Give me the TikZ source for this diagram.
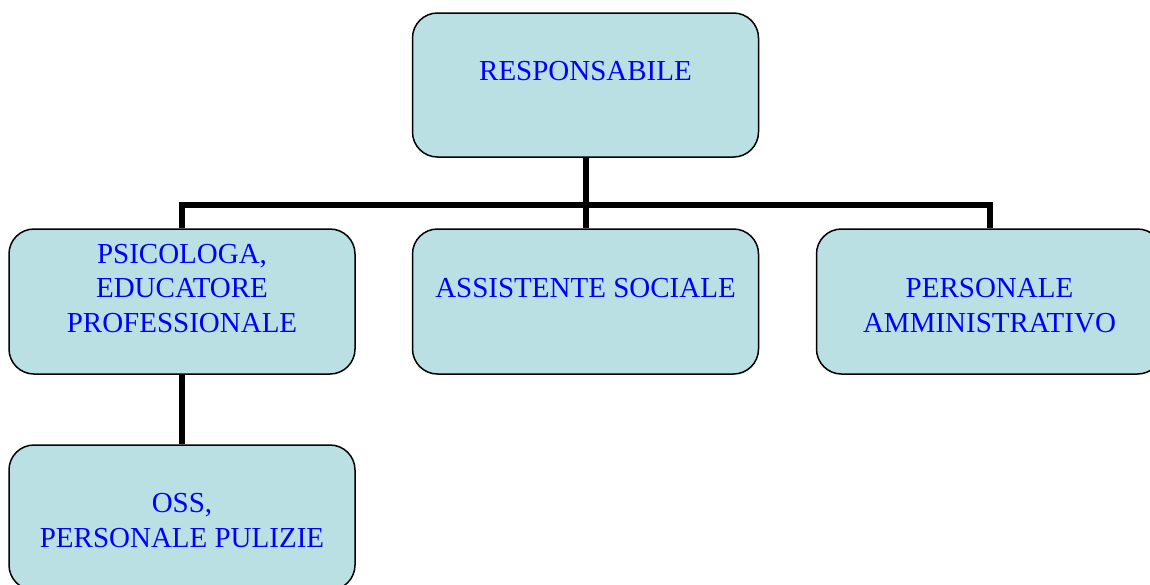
\documentclass[tikz,border=0pt]{standalone}
\usepackage{fontspec}
\setmainfont{Liberation Serif}
\usetikzlibrary{backgrounds}
\definecolor{boxfill}{RGB}{186,224,227}
\definecolor{txtblue}{RGB}{0,0,255}
\begin{document}
\begin{tikzpicture}[x=1pt,y=-1pt,
  orgbox/.style={draw=black, line width=1.5pt, fill=boxfill, rectangle,
    rounded corners=25pt, minimum width=346pt, minimum height=145pt, inner sep=0pt},
  lbl/.style={text=txtblue, align=center, inner sep=0pt,
    font=\fontsize{29}{34.5}\selectfont},
  conn/.style={line width=6pt, draw=black, line join=miter}]
\useasboundingbox (0,0) rectangle (1150,584);
\clip (0,0) rectangle (1150,584);
\coordinate (bus) at (0,205);
% boxes
\node[orgbox, minimum height=144pt] (r) at (585.5,85) {};
\node[orgbox] (p) at (182,301.5) {};
\node[orgbox] (a) at (585.5,301.5) {};
\node[orgbox] (m) at (989.5,301.5) {};
\node[orgbox] (o) at (182,517.5) {};
% connectors behind the boxes
\begin{scope}[on background layer]
\draw[conn] (r.south) -- (a.north);
\draw[conn] (p.north) |- (a.north |- bus) -| (m.north);
\draw[conn] (p.south) -- (o.north);
\end{scope}
% labels
\node[lbl] (rt) at (585.5,71) {RESPONSABILE};
\node[lbl] (pt) at (182,288.5) {PSICOLOGA,\\EDUCATORE\\PROFESSIONALE};
\node[lbl] (at) at (585.5,288) {ASSISTENTE SOCIALE};
\node[lbl] (mt) at (989.5,305.5) {PERSONALE\\AMMINISTRATIVO};
\node[lbl] (ot) at (182,520.5) {OSS,\\PERSONALE PULIZIE};
\end{tikzpicture}
\end{document}
